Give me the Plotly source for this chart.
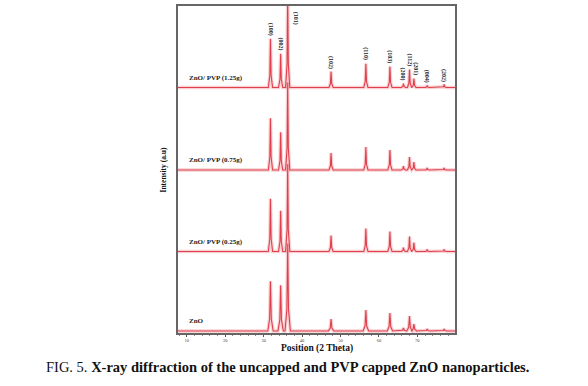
import plotly.graph_objects as go

# ---- data ----
hkl = ["(100)", "(002)", "(101)", "(102)", "(110)", "(103)", "(200)", "(112)", "(201)", "(004)", "(202)"]
two_theta = [31.77, 34.42, 36.25, 47.54, 56.60, 62.86, 66.38, 67.96, 69.10, 72.56, 76.96]

samples = ["ZnO", "ZnO/ PVP (0.25g)", "ZnO/ PVP (0.75g)", "ZnO/ PVP (1.25g)"]
h_zno = [50, 46, 88, 12, 21, 18, 3, 15, 7, 2, 2]
h_025 = [53, 41, 88, 16, 23, 20, 4, 15, 9, 2, 2]
h_075 = [52, 38, 88, 17, 23, 20, 4, 13, 8, 2, 2]
h_125 = [49, 34, 95, 16, 24, 21, 4, 18, 9, 2, 3]
heights = [h_zno, h_025, h_075, h_125]

x_ticks = [10, 20, 30, 40, 50, 60, 70]

# ---- layout constants ----
offsets = [2, 82, 164, 247]
halfw = [0.7, 0.55, 0.55, 0.55]
X0, X1 = 7.7, 79.8
RED = "#e0404c"

fig = go.Figure()

def pattern(off, hs, hw):
    xs, ys = [X0], [off]
    for p, h in zip(two_theta, hs):
        xs += [p - hw, p - hw * 0.3, p, p + hw * 0.3, p + hw]
        ys += [off, off + h * 0.25, off + h, off + h * 0.25, off]
    xs.append(X1)
    ys.append(off)
    return xs, ys

for off, hs, hw in zip(offsets, heights, halfw):
    xs, ys = pattern(off, hs, hw)
    fig.add_trace(go.Scatter(x=xs, y=ys, mode="lines",
                             line=dict(color="rgba(235,120,130,0.35)", width=3.5),
                             hoverinfo="skip", showlegend=False))
    fig.add_trace(go.Scatter(x=xs, y=ys, mode="lines",
                             line=dict(color=RED, width=1.1),
                             showlegend=False))

serif = "Liberation Serif"
# sample labels
for name, off in zip(samples, offsets):
    fig.add_annotation(x=10.0, y=off + 4, text="<b>" + name + "</b>", showarrow=False,
                       xanchor="left", yanchor="bottom",
                       font=dict(family=serif, size=7, color="#222"))

# hkl labels on top pattern
top = offsets[3]
for lab, p, h in zip(hkl, two_theta, h_125):
    if lab == "(101)":
        fig.add_annotation(x=p, y=329 - 4, text="<b>" + lab + "</b>", showarrow=False,
                           textangle=90, xanchor="center", yanchor="top", xshift=8,
                           font=dict(family=serif, size=6, color="#222"))
    else:
        xs = 2 if lab == "(201)" else 0
        fig.add_annotation(x=p, y=top + h + 1, text="<b>" + lab + "</b>", showarrow=False,
                           textangle=90, xanchor="center", yanchor="bottom", xshift=xs,
                           font=dict(family=serif, size=6, color="#222"))

# axis titles
fig.add_annotation(x=0.5, y=0, xref="paper", yref="paper", yshift=-8,
                   text="<b>Position (2 Theta)</b>", showarrow=False, yanchor="top",
                   font=dict(family=serif, size=9.5, color="#111"))
fig.add_annotation(x=0, y=0.5, xref="paper", yref="paper", xshift=-15,
                   text="<b>Intensity (a.u)</b>", showarrow=False, textangle=-90,
                   xanchor="center", font=dict(family=serif, size=7.5, color="#111"))
# caption
fig.add_annotation(x=(287 - 178) / (455 - 178), y=-(367 - 333) / 329,
                   xref="paper", yref="paper", showarrow=False,
                   xanchor="center", yanchor="middle",
                   text="FIG. 5. <b>X-ray diffraction of the uncapped and PVP capped ZnO nanoparticles.</b>",
                   font=dict(family=serif, size=14.5, color="#111"))

fig.update_layout(
    width=588, height=386,
    margin=dict(l=178, r=133, t=4, b=53),
    paper_bgcolor="white", plot_bgcolor="white",
    xaxis=dict(range=[X0, X1], tickvals=x_ticks, ticktext=[str(t) for t in x_ticks],
               showgrid=False, zeroline=False, showline=True, mirror=True,
               linecolor="#666", linewidth=1.5, ticks="outside", ticklen=2,
               tickcolor="#555", tickfont=dict(family=serif, size=4.5, color="#444"),
               minor=dict(dtick=2, ticks="outside", ticklen=1.5, tickcolor="#888")),
    yaxis=dict(range=[0, 329], showticklabels=False, showgrid=False, zeroline=False,
               showline=True, mirror=True, linecolor="#666", linewidth=1.5, ticks=""),
)

fig.write_html("out.html", config={"displayModeBar": False},
               post_script="document.body.style.margin='0';document.body.style.overflow='hidden';")
